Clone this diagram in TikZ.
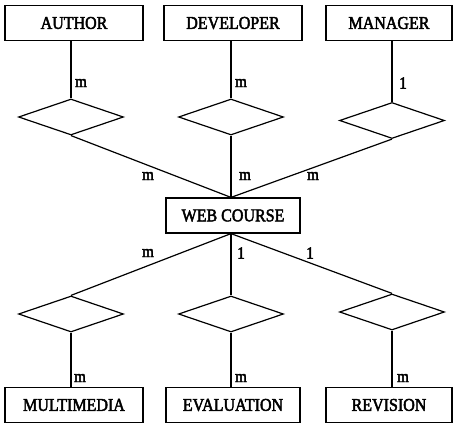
\documentclass[tikz,border=0pt]{standalone}
\usepackage{fontspec}
\setmainfont{Liberation Serif}
\newfontfamily\scanfont[FakeStretch=0.89,FakeBold=2.5]{Liberation Serif}
\usetikzlibrary{shapes.geometric}
\begin{document}
\begin{tikzpicture}[x=1pt,y=-1pt,line width=1.2pt,
  entity/.style={draw,rectangle,minimum height=35pt,inner sep=0pt,font=\scanfont\fontsize{18}{18}\selectfont},
  rel/.style={draw,diamond,minimum width=105pt,minimum height=36pt,inner sep=0pt},
  card/.style={inner sep=0pt,font=\scanfont\fontsize{17}{17}\selectfont}]
\useasboundingbox (0,0) rectangle (456,423);
% top entities
\node[entity,minimum width=138pt] (author) at (74,23) {AUTHOR};
\node[entity,minimum width=138pt] (dev) at (233,23) {DEVELOPER};
\node[entity,minimum width=126pt] (mgr) at (389,23) {MANAGER};
% top relationships
\node[rel] (ra) at (71,117) {};
\node[rel] (rd) at (231,117) {};
\node[rel] (rm) at (392,120.5) {};
% center
\node[entity,minimum width=134pt] (wc) at (233,215.5) {WEB COURSE};
% bottom relationships
\node[rel] (rmm) at (71,314) {};
\node[rel] (re) at (231,314) {};
\node[rel] (rr) at (392,312) {};
% bottom entities
\node[entity,minimum width=138pt] (mm) at (74,405) {MULTIMEDIA};
\node[entity,minimum width=134pt] (ev) at (233,405) {EVALUATION};
\node[entity,minimum width=126pt] (rv) at (389,405) {REVISION};
% connectors top
\draw (ra.north) -- (ra.north |- author.south);
\draw (rd.north) -- (rd.north |- dev.south);
\draw (rm.north) -- (rm.north |- mgr.south);
\draw (ra.south) -- ([xshift=-2pt]wc.north);
\draw (rd.south) -- ([xshift=-2pt]wc.north);
\draw (rm.south) -- ([xshift=-2pt]wc.north);
% connectors bottom
\draw ([xshift=-2pt]wc.south) -- (rmm.north);
\draw ([xshift=-2pt]wc.south) -- (re.north);
\draw ([xshift=-2pt]wc.south) -- (rr.north);
\draw (rmm.south) -- (rmm.south |- mm.north);
\draw (re.south) -- (re.south |- ev.north);
\draw (rr.south) -- (rr.south |- rv.north);
% cardinalities
\node[card] (c1) at (81,83) {m};
\node[card] (c2) at (241,83) {m};
\node[card] (c3) at (403,83) {1};
\node[card] (c4) at (148,176) {m};
\node[card] (c5) at (245,176) {m};
\node[card] (c6) at (313,176) {m};
\node[card] (c7) at (148,253) {m};
\node[card] (c8) at (241,253) {1};
\node[card] (c9) at (310,253) {1};
\node[card] (c10) at (80,378) {m};
\node[card] (c11) at (241,378) {m};
\node[card] (c12) at (403,378) {m};
\end{tikzpicture}
\end{document}
